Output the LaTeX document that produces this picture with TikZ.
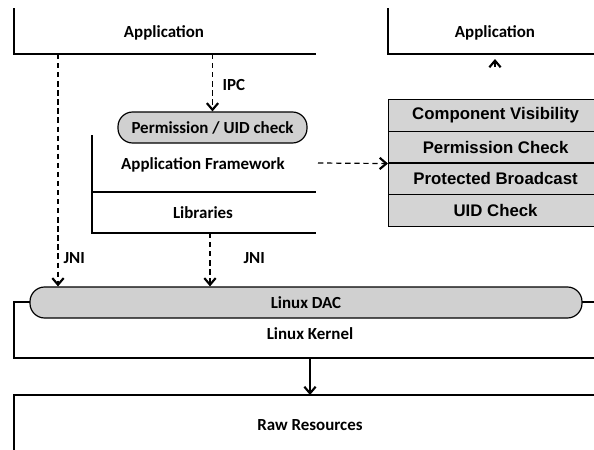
\documentclass[tikz,border=0pt]{standalone}
\usepackage{fontspec}
\setmainfont{Carlito}
\newfontfamily\stackfont{Liberation Sans}
\usetikzlibrary{arrows.meta}
\tikzset{every picture/.style={line width=0.9pt}}
\tikzset{
  txt/.style={font=\bfseries\fontsize{12.7}{14}\selectfont, inner sep=0pt},
  pill/.style={draw, fill={rgb, 255:red, 208; green, 208; blue, 208}, rounded corners=11pt, inner sep=0pt, minimum height=23.25pt, txt},
  stackrow/.style={draw, fill={rgb, 255:red, 212; green, 212; blue, 212}, anchor=west, minimum width=160.5pt, minimum height=23.6pt, inner sep=0pt, font=\stackfont\bfseries\fontsize{12.6}{14}\selectfont},
  dasharrow/.style={dash pattern=on 4pt off 2.8pt, -{Straight Barb[length=5pt,width=8.5pt,line width=1.6pt]}},
  solidarrow/.style={-{Straight Barb[length=5pt,width=8.5pt,line width=1.6pt]}}
}

\begin{document}
\begin{tikzpicture}[x=0.75pt,y=0.75pt,yscale=-1,xscale=1]
\useasboundingbox (0,0) rectangle (594,450);

%Shape: Top left application box
\draw (14,8) -- (14,54) -- (316,54) ;
\node[txt] (appL) at (164,33) {Application};
%Shape: Top right application box
\draw (388,8) -- (388,54) -- (600,54) ;
\node[txt] (appR) at (495,33) {Application};

%Shape: Framework and libraries
\draw (92,135) -- (92,233) -- (316,233) ;
\draw (92,192) -- (316,192) ;
\node[txt] (framework) at (203,165) {Application Framework};
\node[txt] (libs) at (203,213) {Libraries};
\node[pill, minimum width=141.75pt] (uid) at (212.5,127.5) {Permission / UID check};

%Shape: Kernel box
\draw (30,302) -- (14,302) -- (14,358) -- (600,358) ;
\draw (582,302) -- (600,302) ;
\node[pill, minimum width=414pt] (dac) at (306,302.5) {Linux DAC};
\node[txt] (kernel) at (310,334) {Linux Kernel};

%Shape: Raw resources box
\draw (14,452) -- (14,395) -- (600,395) ;
\node[txt] (raw) at (310,425) {Raw Resources};

%Shape: Checks stack
\node[stackrow] (visib) at (388,115.6) {Component Visibility};
\node[stackrow] (pcheck) at (388,147.2) {Permission Check};
\node[stackrow] (bcast) at (388,178.8) {Protected Broadcast};
\node[stackrow] (uidcheck) at (388,210.4) {UID Check};

%Connectors
\coordinate (ipcOut) at (212.5,54);
\coordinate (jniL) at (58,54);
\coordinate (jniM) at (210,233);
\coordinate (fwOut) at (318,163);
\coordinate (kOut) at (310,358);
\coordinate (rawIn) at (310,395);
\coordinate (caretBase) at (495,67);
\coordinate (caretTip) at (495,59);

\draw[dasharrow] (ipcOut) -- (uid.north) ;
\node[txt, anchor=west] (ipc) at (222,85) {IPC};
\draw[dasharrow] (jniL) -- (jniL |- dac.north) ;
\node[txt, anchor=west] (jniLbl) at (63,258) {JNI};
\draw[dasharrow] (jniM) -- (jniM |- dac.north) ;
\node[txt, anchor=west] (jniMbl) at (243,258) {JNI};
\draw[dasharrow] (fwOut) -- (pcheck.south west) ;
\draw[solidarrow] (kOut) -- (rawIn) ;
\draw[solidarrow] (caretBase) -- (caretTip) ;

\end{tikzpicture}
\end{document}
